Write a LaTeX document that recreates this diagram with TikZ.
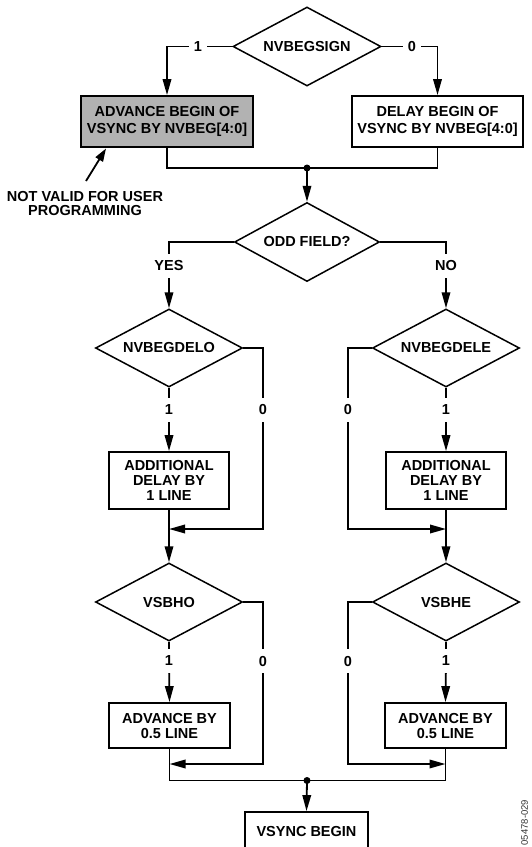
\documentclass[tikz,border=0pt]{standalone}
\usepackage{fontspec}
\setmainfont{Liberation Sans}
\usetikzlibrary{arrows.meta,shapes.geometric}
\begin{document}
\begin{tikzpicture}[x=1pt,y=-1pt,
  every node/.style={font=\bfseries\fontsize{14.5}{17}\selectfont},
  ln/.style={line width=1.8pt},
  arr/.style={ln,-{Triangle[length=16pt,width=8.5pt]}},
  arrsmall/.style={ln,-{Triangle[length=13pt,width=8.5pt]}},
  dec/.style={draw,shape=diamond,line width=1.5pt,minimum width=147pt,minimum height=78pt,inner sep=0pt,aspect=1.88},
  blk/.style={draw,line width=1.8pt,align=center,inner sep=0pt},
  tight/.style={font=\bfseries\fontsize{14.5}{15}\selectfont},
  lbl/.style={inner xsep=5pt,inner ysep=7pt},
]
\useasboundingbox (0,0) rectangle (531,847);

% top decision
\node[dec,minimum width=148pt,minimum height=79pt] (sign) at (307,46.5) {NVBEGSIGN};
\node[blk,fill=black!30,minimum width=172pt,minimum height=51pt] (adv) at (167,121.5) {ADVANCE BEGIN OF\\VSYNC BY NVBEG[4:0]};
\node[blk,minimum width=171pt,minimum height=51pt] (del) at (437.5,121.5) {DELAY BEGIN OF\\VSYNC BY NVBEG[4:0]};
\node[lbl] (one) at (198,46.5) {1};
\node[lbl] (zero) at (412,46.5) {0};
\draw[ln] (sign.west) -- (one);
\draw[arr] (one) -| (adv.north);
\draw[ln] (sign.east) -- (zero);
\draw[arr] (zero) -| (del.north);

% annotation
\node[align=center,font=\bfseries\fontsize{14.5}{14}\selectfont] (note) at (85,203.5) {NOT VALID FOR USER\\PROGRAMMING};
\coordinate (noteS) at (86,181);
\coordinate (noteT) at (106,148.5);
\draw[arrsmall] (noteS) -- (noteT);

% first join
\coordinate (j1) at (307,168);
\node[dec,minimum width=145pt,minimum height=79pt] (odd) at (307,242) {ODD FIELD?};
\draw[ln] (adv.south) |- (j1) -| (del.south);
\fill (j1) circle (3.5pt);
\draw[arr] (j1) -- (odd.north);

% branches
\node[lbl] (yes) at (169,266) {YES};
\node[lbl] (no) at (446,266) {NO};
\node[dec] (delo) at (169,348) {NVBEGDELO};
\node[dec] (dele) at (446,348) {NVBEGDELE};
\draw[ln] (odd.west) -| (yes);
\draw[arr] (yes) -- (delo.north);
\draw[ln] (odd.east) -| (no);
\draw[arr] (no) -- (dele.north);

% odd side, first stage
\node[lbl] (o1) at (169,410) {1};
\node[lbl] (o0) at (263,410) {0};
\node[blk,tight,minimum width=120pt,minimum height=57pt] (addo) at (169,480.5) {ADDITIONAL\\DELAY BY\\1 LINE};
\node[dec] (vo) at (169,602) {VSBHO};
\coordinate (mo) at (169,529);
\draw[ln] (delo.south) -- (o1);
\draw[arr] (o1) -- (addo.north);
\draw[ln] (delo.east) -| (o0);
\draw[arr] (o0) |- (mo);
\draw[arr] (addo.south) -- (vo.north);

% even side, first stage
\node[lbl] (e1) at (446,410) {1};
\node[lbl] (e0) at (348,410) {0};
\node[blk,tight,minimum width=120pt,minimum height=57pt] (adde) at (446,480.5) {ADDITIONAL\\DELAY BY\\1 LINE};
\node[dec] (ve) at (446,602) {VSBHE};
\coordinate (me) at (446,529);
\draw[ln] (dele.south) -- (e1);
\draw[arr] (e1) -- (adde.north);
\draw[ln] (dele.west) -| (e0);
\draw[arr] (e0) |- (me);
\draw[arr] (adde.south) -- (ve.north);

% odd side, second stage
\node[lbl] (p1) at (169,661) {1};
\node[lbl] (p0) at (263,661) {0};
\node[blk,tight,minimum width=121pt,minimum height=45pt] (advo) at (169.5,725.5) {ADVANCE BY\\0.5 LINE};
\coordinate (qo) at (169.5,764);
\draw[ln] (vo.south) -- (p1);
\draw[arr] (p1) -- (advo.north);
\draw[ln] (vo.east) -| (p0);
\draw[arr] (p0) |- (qo);

% even side, second stage
\node[lbl] (r1) at (446,661) {1};
\node[lbl] (r0) at (348,661) {0};
\node[blk,tight,minimum width=121pt,minimum height=45pt] (adve) at (445.5,725.5) {ADVANCE BY\\0.5 LINE};
\coordinate (qe) at (445.5,764);
\draw[ln] (ve.south) -- (r1);
\draw[arr] (r1) -- (adve.north);
\draw[ln] (ve.west) -| (r0);
\draw[arr] (r0) |- (qe);

% final join
\coordinate (j2) at (307,780.5);
\node[blk,minimum width=123pt,minimum height=38pt] (vs) at (306.5,831) {VSYNC BEGIN};
\draw[ln] (advo.south) |- (j2) -| (adve.south);
\fill (j2) circle (3.5pt);
\draw[arr] (j2) -- (vs.north);

% figure code
\node[rotate=90,anchor=west,inner sep=0pt,font=\fontsize{9.5}{10}\selectfont,text=black!80] (code) at (524.5,845.5) {05478-029};
\end{tikzpicture}
\end{document}
